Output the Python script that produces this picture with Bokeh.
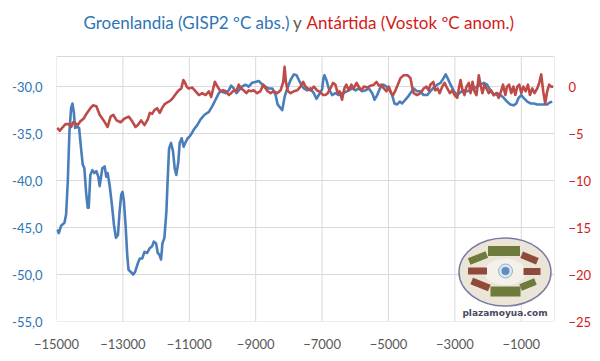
import math
from bokeh.plotting import figure
from bokeh.models import Range1d, LinearAxis, FixedTicker, CustomJSTickFormatter, Label
from bokeh.embed import file_html
from bokeh.resources import INLINE

# ---------------- data ----------------
x_ticks = [-15000, -13000, -11000, -9000, -7000, -5000, -3000, -1000]
left_ticks = [-55, -50, -45, -40, -35, -30]
right_ticks = [-25, -20, -15, -10, -5, 0]

gisp2_years = [-14980, -14930, -14860, -14760, -14710, -14660, -14610, -14560, -14520, -14480,
               -14440, -14380, -14320, -14260, -14210, -14160, -14110, -14060, -14030, -13980,
               -13920, -13860, -13800, -13740, -13700, -13620, -13550, -13500, -13460, -13400,
               -13330, -13270, -13210, -13150, -13100, -13050, -13010, -12970, -12920, -12870,
               -12830, -12770, -12690, -12630, -12550, -12490, -12420, -12350, -12270, -12190,
               -12120, -12070, -12000, -11950, -11900, -11850, -11810, -11750, -11690, -11650,
               -11610, -11550, -11490, -11440, -11390, -11330, -11290, -11230, -11170, -11110,
               -11050, -10990, -10930, -10870, -10760, -10660, -10540, -10410, -10310, -10210,
               -10110, -10060, -9910, -9810, -9740, -9660, -9580, -9510, -9410, -9310,
               -9210, -9110, -9010, -8910, -8800, -8710, -8610, -8500, -8400, -8340,
               -8250, -8200, -8130, -8050, -7950, -7850, -7770, -7700, -7630, -7550,
               -7450, -7350, -7250, -7170, -7100, -7000, -6960, -6930, -6870, -6800,
               -6700, -6600, -6500, -6400, -6300, -6200, -6090, -5990, -5900, -5790,
               -5690, -5590, -5490, -5420, -5340, -5260, -5160, -5060, -4960, -4890,
               -4820, -4740, -4660, -4590, -4490, -4420, -4340, -4240, -4140, -4040,
               -3940, -3830, -3740, -3640, -3530, -3430, -3340, -3280, -3220, -3130,
               -3030, -2930, -2830, -2730, -2630, -2530, -2430, -2330, -2230, -2130,
               -2030, -1930, -1830, -1730, -1630, -1530, -1430, -1330, -1230, -1150,
               -1080, -1000, -930, -820, -720, -620, -520, -420, -320, -220,
               -140, -70]
gisp2_temp = [-45.2, -45.6, -44.8, -44.5, -43.6, -40.1, -34.8, -32.3, -31.8, -32.7,
              -34.4, -34.3, -34.4, -36.6, -38.3, -38.7, -41.2, -42.9, -42.9, -39.4,
              -38.9, -39.2, -39.0, -39.6, -40.6, -38.7, -38.5, -39.6, -39.2, -40.5,
              -42.6, -44.7, -46.1, -45.8, -43.3, -41.5, -41.2, -42.2, -44.7, -47.9,
              -49.5, -49.7, -50.0, -49.7, -48.8, -48.3, -48.3, -47.6, -47.7, -47.2,
              -47.0, -46.5, -46.7, -47.7, -47.9, -48.4, -46.7, -46.1, -43.3, -39.8,
              -36.6, -36.0, -36.9, -38.7, -39.4, -38.0, -36.0, -35.5, -36.4, -35.9,
              -35.5, -35.3, -35.0, -34.6, -34.1, -33.5, -33.0, -32.7, -32.1, -31.4,
              -30.7, -30.5, -30.7, -30.4, -29.9, -30.2, -30.7, -30.4, -30.0, -29.8,
              -30.0, -29.6, -29.5, -29.4, -29.8, -30.0, -30.2, -30.2, -30.9, -31.9,
              -32.3, -32.5, -31.1, -30.2, -29.3, -28.7, -28.8, -29.3, -29.8, -30.2,
              -30.4, -30.2, -30.7, -31.3, -30.9, -30.3, -29.1, -28.8, -29.3, -30.2,
              -30.9, -30.7, -30.9, -30.7, -30.6, -30.4, -30.2, -30.4, -30.2, -30.5,
              -30.4, -30.2, -30.7, -31.4, -30.9, -30.2, -29.8, -30.0, -30.4, -30.9,
              -31.8, -31.9, -31.6, -31.8, -31.4, -31.1, -30.7, -30.2, -30.5, -30.5,
              -30.9, -30.9, -30.5, -30.1, -29.8, -29.6, -29.1, -28.7, -29.1, -29.8,
              -30.5, -30.9, -30.6, -30.4, -30.5, -30.4, -30.2, -30.0, -29.8, -29.6,
              -29.8, -30.4, -30.9, -30.7, -30.9, -31.2, -31.6, -31.9, -32.0, -31.8,
              -31.2, -30.9, -31.2, -31.6, -31.8, -31.8, -31.9, -31.9, -31.9, -31.9,
              -31.7, -31.6]

vostok_years = [-14980, -14900, -14830, -14730, -14630, -14560, -14500, -14430, -14360, -14280,
                -14180, -14080, -13980, -13900, -13800, -13700, -13580, -13460, -13370, -13290,
                -13190, -13070, -12950, -12820, -12720, -12620, -12550, -12450, -12350, -12250,
                -12190, -12120, -12050, -11970, -11890, -11820, -11750, -11670, -11570, -11490,
                -11390, -11320, -11240, -11180, -11140, -11080, -11020, -10910, -10810, -10710,
                -10610, -10510, -10410, -10340, -10280, -10230, -10150, -10060, -9980, -9900,
                -9810, -9740, -9660, -9580, -9510, -9440, -9360, -9280, -9210, -9140,
                -9060, -8960, -8860, -8770, -8700, -8640, -8550, -8460, -8350, -8250,
                -8170, -8130, -8090, -8030, -7950, -7850, -7750, -7650, -7570, -7500,
                -7430, -7350, -7250, -7150, -7050, -6970, -6900, -6830, -6750, -6670,
                -6600, -6530, -6470, -6400, -6330, -6270, -6200, -6120, -6050, -5960,
                -5900, -5820, -5740, -5640, -5540, -5440, -5360, -5290, -5220, -5140,
                -5060, -4990, -4920, -4860, -4790, -4720, -4640, -4540, -4420, -4340,
                -4290, -4240, -4140, -4040, -3940, -3860, -3790, -3740, -3650, -3590,
                -3520, -3460, -3380, -3310, -3230, -3150, -3080, -3010, -2930, -2880,
                -2830, -2770, -2710, -2650, -2580, -2530, -2470, -2410, -2350, -2280,
                -2230, -2170, -2110, -2050, -1980, -1910, -1830, -1750, -1680, -1610,
                -1550, -1480, -1430, -1370, -1300, -1240, -1180, -1120, -1060, -1000,
                -940, -870, -800, -740, -670, -600, -520, -460, -400, -340,
                -280, -220, -160, -100, -40]
vostok_anom = [-4.4, -4.7, -4.4, -4.0, -4.0, -4.3, -3.8, -3.9, -4.1, -3.7,
               -3.4, -2.8, -2.3, -2.0, -2.1, -3.0, -3.6, -4.3, -3.2, -3.0,
               -3.6, -3.8, -3.4, -3.2, -3.7, -4.3, -4.1, -3.6, -4.1, -3.5,
               -2.8, -2.9, -2.5, -2.3, -2.8, -2.3, -1.9, -1.7, -1.5, -1.2,
               -0.7, -0.4, -0.2, 0.7, 0.5, 0.0, -0.2, -0.1, -0.5, -0.9,
               -0.7, -0.9, -0.5, -1.1, -0.2, 0.5, 0.0, -0.5, -0.4, -0.5,
               -0.9, -0.7, -0.4, -0.5, 0.2, -0.2, -0.4, -0.7, -0.4, -0.5,
               -0.4, -0.7, -0.5, 0.2, -0.2, -0.5, -0.7, -0.5, -0.7, -0.4,
               0.5, 2.1, 0.5, -0.5, -0.7, -0.5, -0.4, 0.0, 0.5, 0.0,
               -0.2, -0.4, 0.0, -0.4, -0.6, -0.9, -0.9, -0.7, -0.2, 0.4,
               0.2, -0.7, -0.5, -1.4, -0.2, 0.2, -0.4, 0.2, -0.2, 0.4,
               0.0, -0.4, 0.0, -0.1, 0.1, 0.2, 0.5, 0.1, 0.2, -0.2,
               -0.5, 0.0, -0.7, -0.9, -0.4, 0.2, 0.9, 1.2, 1.2, 0.9,
               0.0, -0.7, -0.9, -0.7, -0.2, 0.0, -0.4, 0.2, 0.5, -0.4,
               -0.2, -0.7, 0.0, 0.4, -0.2, -0.7, -0.4, -0.9, -1.2, -0.2,
               0.7, -0.4, -0.9, 0.0, 0.4, -0.7, 0.5, -0.5, -0.9, 1.2,
               0.2, -0.7, 0.2, -0.2, -0.7, -0.4, -0.9, -0.7, -1.2, -0.5,
               0.2, -0.9, 0.0, 0.2, -0.7, 0.0, -0.9, 0.0, 0.2, -0.7,
               0.0, -0.5, 0.2, -0.9, -0.2, -0.7, -0.2, 0.4, 1.3, -0.5,
               -1.8, -0.5, 0.2, 0.0, 0.0]

assert len(gisp2_years) == len(gisp2_temp)
assert len(vostok_years) == len(vostok_anom)

# ---------------- styles / layout ----------------
BLUE_LINE = "#4A7EBB"
RED_LINE = "#BE4B48"
BLUE_TXT = "#2E75B6"
RED_TXT = "#D41A1A"
GRAY_TXT = "#595959"
GRID = "#D9D9D9"
FONT = "Lato"

W, H = 600, 361
BL, BR, BT, BB = 56, 46, 0, 40          # frame borders (frame spans whole top so title can live inside it)
FW, FH = W - BL - BR, H - BT - BB       # 498 x 321
X0, X1 = -15000, 0
YL0 = -55
PX_PER_UNIT = 9.397
YTOP = YL0 + FH / PX_PER_UNIT           # left-axis value at top of canvas
AREA_TOP = -26.8                        # top edge of the plotting area (left units)
OFFSET = 30                             # right axis = left axis + 30

p = figure(width=W, height=H, output_backend="svg", toolbar_location=None,
           x_range=Range1d(X0, X1), y_range=Range1d(YL0, YTOP),
           min_border_left=BL, min_border_right=BR, min_border_top=BT, min_border_bottom=BB)
p.extra_y_ranges = {"right": Range1d(YL0 + OFFSET, YTOP + OFFSET)}
p.background_fill_color = "white"
p.border_fill_color = "white"
p.outline_line_color = None
p.xgrid.grid_line_color = None
p.ygrid.grid_line_color = None

# axes
p.xaxis.ticker = FixedTicker(ticks=x_ticks)
p.yaxis.ticker = FixedTicker(ticks=left_ticks)
p.yaxis.formatter = CustomJSTickFormatter(code="return tick.toFixed(1).replace('.', ',');")
right_axis = LinearAxis(y_range_name="right", ticker=FixedTicker(ticks=right_ticks))
p.add_layout(right_axis, "right")

for ax in [p.xaxis[0], p.yaxis[0], right_axis]:
    ax.axis_line_color = None
    ax.major_tick_line_color = None
    ax.minor_tick_line_color = None
    ax.major_tick_out = 0
    ax.major_tick_in = 0
    ax.minor_tick_out = 0
    ax.minor_tick_in = 0
    ax.major_label_text_font = FONT
    ax.major_label_text_font_size = "13px"

p.xaxis.major_label_text_color = GRAY_TXT
p.xaxis.major_label_standoff = 17
p.yaxis[0].major_label_text_color = BLUE_TXT
p.yaxis[0].major_label_standoff = 14
right_axis.major_label_text_color = RED_TXT
right_axis.major_label_standoff = 14

# gridlines / plot-area border (drawn so they stop at the plot-area top)
nx = len(x_ticks)
p.segment(x0=x_ticks, y0=[YL0] * nx, x1=x_ticks, y1=[AREA_TOP] * nx, line_color=GRID, line_width=1)
hy = left_ticks + [AREA_TOP]
p.segment(x0=[X0] * len(hy), y0=hy, x1=[X1] * len(hy), y1=hy, line_color=GRID, line_width=1)
p.segment(x0=[X1], y0=[YL0], x1=[X1], y1=[AREA_TOP], line_color=GRID, line_width=1)

# ---------------- watermark logo (decoration) ----------------
def px2x(px):
    return X0 + (px - BL) * (X1 - X0) / FW
def py2y(py):
    return YTOP - (py - BT) * (YTOP - YL0) / FH

p.ellipse(x=px2x(504.5), y=py2y(271.5), width=92, height=68,
          width_units="screen", height_units="screen",
          fill_color="#EAE5D6", line_color="#7A7AA6", line_width=1.5)
p.ellipse(x=px2x(504.5), y=py2y(271.5), width=42, height=26,
          width_units="screen", height_units="screen",
          fill_color="#F4F1EA", line_color=None)
green = "#6E7B3C"
brown = "#8E4B3B"
parts = [  # (cx, cy, w, h, angle_deg, colour) in page pixels
    (503.5, 250.5, 32, 10, 0, green),
    (505.0, 291.0, 30, 10, 0, green),
    (477.5, 257.5, 19, 7, 22, green),
    (529.0, 257.5, 17, 7, -22, brown),
    (477.0, 270.5, 19, 7, 0, brown),
    (531.5, 271.0, 17, 7, 0, brown),
    (480.0, 284.0, 19, 7, -22, brown),
    (527.5, 284.0, 16, 7, 22, green),
]
for cx, cy, w, h, ang, col in parts:
    p.rect(x=px2x(cx), y=py2y(cy), width=w, height=h,
           width_units="screen", height_units="screen",
           angle=math.radians(ang), fill_color=col, line_color=None)
p.scatter(x=[px2x(505)], y=[py2y(270.5)], size=14, marker="circle",
          fill_color="#DDE6EE", line_color="#9AB0C8", line_width=1)
p.scatter(x=[px2x(505)], y=[py2y(270.5)], size=8, marker="circle",
          fill_color="#5B8CC4", line_color=None)

# ---------------- series ----------------
p.line(gisp2_years, gisp2_temp, line_color=BLUE_LINE, line_width=2.6, line_join="round")
p.line(vostok_years, vostok_anom, line_color=RED_LINE, line_width=2.6, line_join="round",
       y_range_name="right")

# ---------------- title (coloured parts), frame-relative screen units ----------------
TY = FH - 22
p.add_layout(Label(x=289 - BL, y=TY, x_units="screen", y_units="screen",
                   text="Groenlandia (GISP2 ºC abs.)", text_align="right", text_baseline="middle",
                   text_font=FONT, text_font_size="17px", text_color=BLUE_TXT))
p.add_layout(Label(x=297 - BL, y=TY, x_units="screen", y_units="screen",
                   text="y", text_align="center", text_baseline="middle",
                   text_font=FONT, text_font_size="17px", text_color=GRAY_TXT))
p.add_layout(Label(x=306 - BL, y=TY, x_units="screen", y_units="screen",
                   text="Antártida (Vostok ºC anom.)", text_align="left", text_baseline="middle",
                   text_font=FONT, text_font_size="17px", text_color=RED_TXT))
p.add_layout(Label(x=504.5 - BL, y=FH - 312, x_units="screen", y_units="screen",
                   text="plazamoyua.com", text_align="center", text_baseline="middle",
                   text_font="DejaVu Sans", text_font_style="bold", text_font_size="9px",
                   text_color="#4A4A5E"))

open("out.html", "w").write(file_html(p, INLINE))
